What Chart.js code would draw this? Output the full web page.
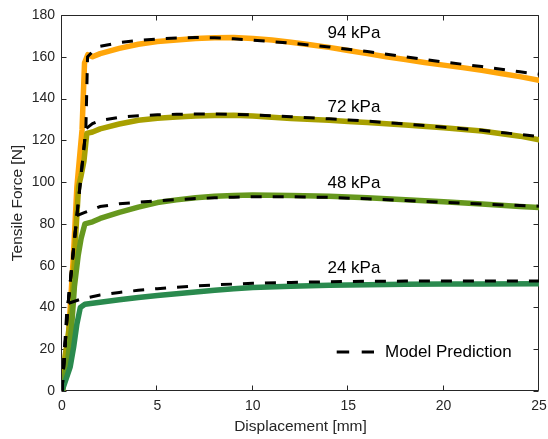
<!DOCTYPE html>
<html>
<head>
<meta charset="utf-8">
<script src="https://cdn.jsdelivr.net/npm/chart.js@4.4.0/dist/chart.umd.min.js"></script>
<style>
  html, body { margin: 0; padding: 0; background: #fff; }
  #wrap { width: 548px; height: 439px; }
</style>
</head>
<body>
<div id="wrap"><canvas id="chart"></canvas></div>
<script>
// measured curves: displacement [mm] / force [N]
const exp24X = [0, 0.43, 0.61, 0.78, 0.96, 1.2, 2, 3, 4, 5, 6, 7, 8, 9, 10, 12, 14, 16, 18, 20, 22, 25];
const exp24Y = [0, 11.6, 21, 32, 40, 41.5, 42.5, 43.7, 44.8, 45.7, 46.6, 47.4, 48.2, 48.9, 49.5, 50.2, 50.6, 50.9, 51.1, 51.2, 51.2, 51.3];

const exp48X = [0, 0.3, 0.5, 0.65, 0.85, 1.0, 1.2, 1.6, 2, 3, 4, 5, 6, 7, 8, 9, 10, 12, 14, 16, 18, 20, 22, 24, 25];
const exp48Y = [0, 15, 30, 50, 65, 73, 80, 81, 82.6, 85.5, 88, 90.2, 91.5, 92.5, 93.2, 93.6, 93.8, 93.6, 93.2, 92.5, 91.5, 90.6, 89.5, 88.3, 87.8];

const exp72X = [0, 0.05, 0.3, 0.5, 0.62, 0.72, 0.87, 1.0, 1.15, 1.3, 1.6, 2, 3, 4, 5, 6, 7, 8, 9, 10, 11, 12, 14, 15, 16, 18, 20, 22, 24, 25];
const exp72Y = [0, 10, 25, 40, 57, 75, 98, 103, 110, 123.3, 124, 125.5, 127.8, 129.6, 130.6, 131.2, 131.6, 131.9, 132, 131.6, 131, 130.5, 129.6, 129, 128.5, 127.3, 126, 124.5, 122, 120.2];

const exp94X = [0, 0.3, 0.6, 0.78, 1.05, 1.18, 1.35, 1.6, 2, 3, 4, 5, 6, 7, 8, 9, 10, 11, 12, 13, 14, 15, 16, 17, 18, 19, 20, 21, 22, 23, 24, 25];
const exp94Y = [0, 20, 65, 97.7, 125, 157, 161, 160, 161.5, 164, 166, 167.3, 168, 168.7, 169.1, 169.2, 168.8, 168, 167, 165.8, 164.5, 163, 161.5, 160, 158.7, 157.3, 156, 154.8, 153.5, 152, 150.5, 148.8];

// model prediction curves
const mod24X = [0, 0.25, 0.35, 1, 2, 3, 4, 5, 6, 7, 8, 9, 10, 12, 14, 16, 18, 20, 25];
const mod24Y = [0, 38, 42, 44, 46, 47.2, 48.2, 49, 49.7, 50.3, 50.8, 51.2, 51.6, 52, 52.3, 52.5, 52.6, 52.6, 52.6];

const mod48X = [0, 0.3, 0.78, 1.2, 2, 3, 4, 5, 6, 7, 8, 9, 10, 12, 14, 16, 18, 20, 22, 24, 25];
const mod48Y = [0, 40, 84, 85.5, 88.3, 89.6, 90.4, 91, 91.6, 92.1, 92.5, 92.8, 93, 93, 92.7, 92, 91.2, 90.3, 89.5, 88.8, 88.5];

const mod72X = [0, 0.3, 0.78, 1.25, 1.6, 2, 3, 4, 5, 6, 7, 8, 9, 10, 12, 14, 16, 18, 20, 22, 24, 25];
const mod72Y = [0, 40, 84, 125.5, 128, 129.5, 131, 131.8, 132.2, 132.5, 132.6, 132.6, 132.4, 132.2, 131.3, 130.3, 129.2, 127.8, 126.3, 124.8, 122.8, 121.8];

const mod94X = [0, 0.3, 0.78, 1.25, 1.34, 1.6, 2, 3, 4, 5, 6, 7, 8, 9, 10, 12, 14, 16, 18, 20, 22, 24, 25];
const mod94Y = [0, 40, 84, 125, 160, 162.5, 165, 166.8, 167.8, 168.5, 169, 169.2, 169.1, 168.6, 168, 166.5, 164.7, 162.5, 160, 157.5, 155.3, 152.8, 151.7];

// pressure labels placed at data coordinates
const labelText = ['94 kPa', '72 kPa', '48 kPa', '24 kPa'];
const labelX = [15.3, 15.3, 15.3, 15.3];
const labelY = [171.1, 136, 99.4, 58.7];

const legendText = 'Model Prediction';

const FONT = "'Liberation Sans', Arial, sans-serif";
const AXIS = '#262626';

const pts = (xs, ys) => xs.map((x, i) => ({ x, y: ys[i] }));

const solid = (xs, ys, color, order) => ({
  data: pts(xs, ys),
  borderColor: color,
  borderWidth: 5.5,
  borderJoinStyle: 'round',
  borderCapStyle: 'round',
  pointRadius: 0,
  tension: 0,
  order,
});

const dashed = (xs, ys) => ({
  data: pts(xs, ys),
  borderColor: '#000',
  borderWidth: 3,
  borderDash: [11, 11],
  pointRadius: 0,
  tension: 0,
  order: 0,
});

const framePlugin = {
  id: 'frame',
  beforeDatasetsDraw(chart) {
    const { ctx, chartArea: a, scales: { x, y } } = chart;
    const L = Math.round(a.left) - 0.5, R = Math.round(a.right) - 0.5;
    const T = Math.round(a.top) + 0.5, B = Math.round(a.bottom) - 0.5;
    ctx.save();
    ctx.strokeStyle = AXIS;
    ctx.lineWidth = 1;
    ctx.beginPath();
    ctx.rect(L, T, R - L, B - T);
    x.ticks.forEach(t => {
      const px = Math.round(x.getPixelForValue(t.value)) - 0.5;
      ctx.moveTo(px, B); ctx.lineTo(px, B - 5);
      ctx.moveTo(px, T); ctx.lineTo(px, T + 5);
    });
    y.ticks.forEach(t => {
      const py = Math.round(y.getPixelForValue(t.value)) + 0.5;
      ctx.moveTo(L, py); ctx.lineTo(L + 5, py);
      ctx.moveTo(R, py); ctx.lineTo(R - 5, py);
    });
    ctx.stroke();
    ctx.restore();
  },
  afterDatasetsDraw(chart) {
    const { ctx, chartArea: a, scales: { x, y } } = chart;
    ctx.save();
    ctx.fillStyle = '#000';
    ctx.font = `17px ${FONT}`;
    ctx.textAlign = 'center';
    ctx.textBaseline = 'middle';
    labelText.forEach((t, i) => {
      ctx.fillText(t, x.getPixelForValue(labelX[i]), y.getPixelForValue(labelY[i]));
    });

    // legend
    const ly = a.bottom - 39;
    ctx.strokeStyle = '#000';
    ctx.lineWidth = 3;
    ctx.setLineDash([12.5, 12.5]);
    ctx.beginPath();
    ctx.moveTo(a.right - 202.3, ly);
    ctx.lineTo(a.right - 165, ly);
    ctx.stroke();
    ctx.setLineDash([]);
    ctx.textAlign = 'left';
    ctx.fillText(legendText, a.right - 154, ly);
    ctx.restore();
  },
};

new Chart(document.getElementById('chart'), {
  type: 'line',
  data: {
    datasets: [
      dashed(mod94X, mod94Y),
      dashed(mod72X, mod72Y),
      dashed(mod48X, mod48Y),
      dashed(mod24X, mod24Y),
      solid(exp24X, exp24Y, '#2A8A4E', 1),
      solid(exp48X, exp48Y, '#66981E', 2),
      solid(exp72X, exp72Y, '#A8A000', 3),
      solid(exp94X, exp94Y, '#FFA60A', 4),
    ],
  },
  options: {
    responsive: true,
    maintainAspectRatio: false,
    animation: false,
    layout: { padding: { left: 0, top: 15, right: 9, bottom: 0 } },
    plugins: {
      legend: { display: false },
      tooltip: { enabled: false },
    },
    scales: {
      x: {
        type: 'linear',
        min: 0,
        max: 25,
        grid: { display: false, drawTicks: false },
        border: { display: false },
        ticks: { stepSize: 5, color: AXIS, font: { family: FONT, size: 14 }, padding: 7, maxRotation: 0, autoSkip: false },
        title: { display: true, text: 'Displacement [mm]', color: AXIS, font: { family: FONT, size: 15.5 }, padding: { top: 0, bottom: 3 } },
        afterFit: s => { s.height = 48; s.paddingLeft = 0; s.paddingRight = 0; },
      },
      y: {
        min: 0,
        max: 180,
        grid: { display: false, drawTicks: false },
        border: { display: false },
        ticks: { stepSize: 20, color: AXIS, font: { family: FONT, size: 14 }, padding: 7, autoSkip: false },
        title: { display: true, text: 'Tensile Force [N]', color: AXIS, font: { family: FONT, size: 15.5 }, padding: { top: 8, bottom: 0 } },
        afterFit: s => { s.width = 62; s.paddingTop = 0; s.paddingBottom = 0; },
      },
    },
  },
  plugins: [framePlugin],
});
</script>
</body>
</html>
